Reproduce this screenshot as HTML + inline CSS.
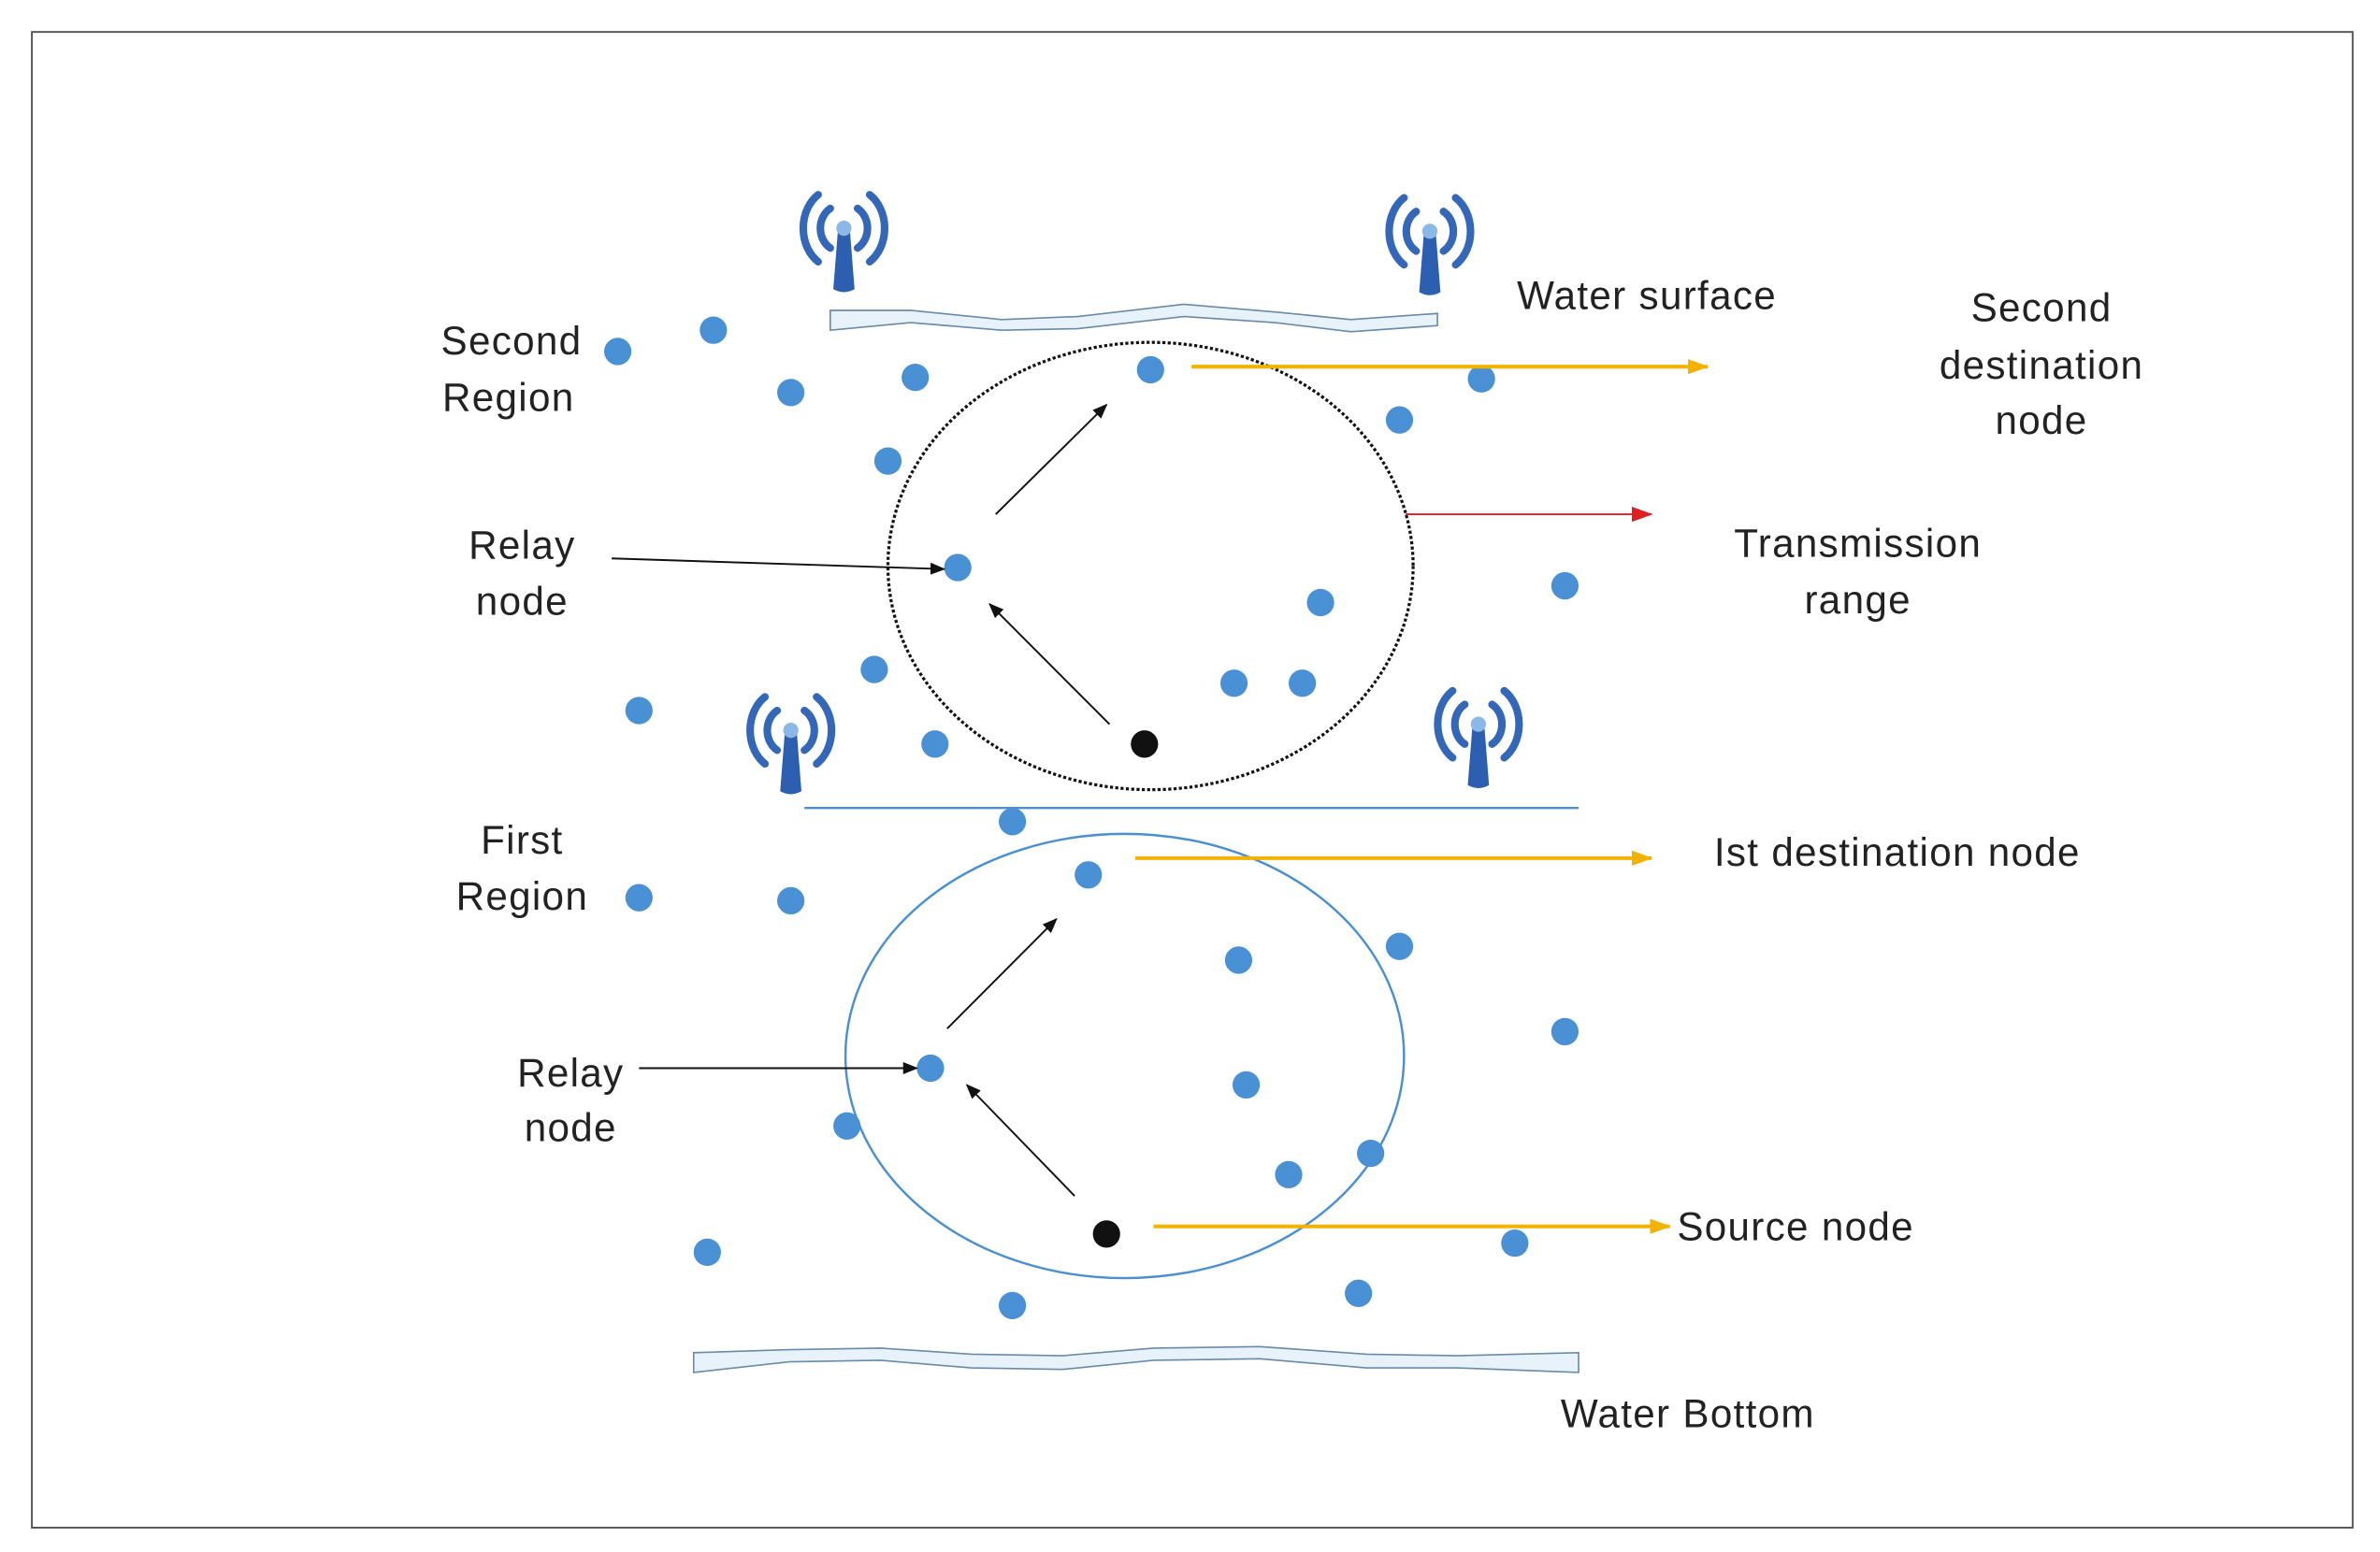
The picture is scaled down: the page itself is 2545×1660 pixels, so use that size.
<!DOCTYPE html>
<html><head><meta charset="utf-8"><style>html,body{margin:0;padding:0;background:#fff}svg{display:block}</style></head>
<body>
<svg width="2545" height="1660" viewBox="0 0 1568 1020" preserveAspectRatio="none" xmlns="http://www.w3.org/2000/svg" font-family="Liberation Sans, sans-serif">
<defs>
<marker id="ab" markerWidth="10" markerHeight="8" refX="9" refY="4" orient="auto" markerUnits="userSpaceOnUse"><path d="M0,0 L10,4 L0,8z" fill="#111"/></marker>
<marker id="ay" markerWidth="14" markerHeight="10" refX="13" refY="5" orient="auto" markerUnits="userSpaceOnUse"><path d="M0,0 L14,5 L0,10z" fill="#f2b200"/></marker>
<marker id="ar" markerWidth="14" markerHeight="10" refX="13" refY="5" orient="auto" markerUnits="userSpaceOnUse"><path d="M0,0 L14,5 L0,10z" fill="#e02020"/></marker>
<g id="ant">
<path d="M-4,0 L4,0 L7,38 Q0,42 -7,38 Z" fill="#2d5fb0"/>
<circle cx="0" cy="-2" r="5" fill="#8cb8e8"/>
<path d="M-9,-15 A13,15 0 0 0 -9,11" stroke="#3567b8" stroke-width="5" fill="none" stroke-linecap="round"/>
<path d="M9,-15 A13,15 0 0 1 9,11" stroke="#3567b8" stroke-width="5" fill="none" stroke-linecap="round"/>
<path d="M-17,-24 A21,26 0 0 0 -17,20" stroke="#3567b8" stroke-width="5" fill="none" stroke-linecap="round"/>
<path d="M17,-24 A21,26 0 0 1 17,20" stroke="#3567b8" stroke-width="5" fill="none" stroke-linecap="round"/>
</g>
</defs>
<rect x="21" y="21" width="1529" height="983" fill="none" stroke="#555" stroke-width="1.2"/>
<use href="#ant" x="556" y="152"/>
<use href="#ant" x="942" y="154"/>
<use href="#ant" x="521" y="482"/>
<use href="#ant" x="974" y="478"/>
<path d="M547,204 L600,204 L660,210 L710,208 L780,200 L840,205 L890,210 L947,206 L947,214 L890,218 L840,212 L780,208 L710,216 L660,217 L600,212 L547,217 Z" fill="#e8f2fb" stroke="#6a8aa8" stroke-width="1"/>
<path d="M457,889 L520,887 L580,886 L640,890 L700,891 L760,886 L830,885 L900,890 L960,891 L1040,889 L1040,902 L960,899 L900,899 L830,893 L760,894 L700,900 L640,899 L580,894 L520,895 L457,902 Z" fill="#e8f2fb" stroke="#6a8aa8" stroke-width="1"/>
<line x1="530" y1="531" x2="1040" y2="531" stroke="#4a8fd0" stroke-width="1.5"/>
<ellipse cx="758" cy="372" rx="173" ry="147" fill="none" stroke="#111" stroke-width="2" stroke-dasharray="2,1.5"/>
<ellipse cx="741" cy="694" rx="184" ry="146" fill="none" stroke="#4a8fd0" stroke-width="1.5"/>
<g fill="#4a90d4">
<circle cx="407" cy="231" r="9"/><circle cx="470" cy="217" r="9"/><circle cx="521" cy="258" r="9"/><circle cx="603" cy="248" r="9"/><circle cx="585" cy="303" r="9"/><circle cx="758" cy="243" r="9"/><circle cx="922" cy="276" r="9"/><circle cx="976" cy="249" r="9"/><circle cx="631" cy="373" r="9"/><circle cx="870" cy="396" r="9"/><circle cx="1031" cy="385" r="9"/><circle cx="576" cy="440" r="9"/><circle cx="813" cy="449" r="9"/><circle cx="858" cy="449" r="9"/><circle cx="421" cy="467" r="9"/><circle cx="616" cy="489" r="9"/><circle cx="667" cy="540" r="9"/><circle cx="717" cy="575" r="9"/><circle cx="421" cy="590" r="9"/><circle cx="521" cy="592" r="9"/><circle cx="816" cy="631" r="9"/><circle cx="922" cy="622" r="9"/><circle cx="1031" cy="678" r="9"/><circle cx="613" cy="702" r="9"/><circle cx="821" cy="713" r="9"/><circle cx="558" cy="740" r="9"/><circle cx="849" cy="772" r="9"/><circle cx="903" cy="758" r="9"/><circle cx="466" cy="823" r="9"/><circle cx="998" cy="817" r="9"/><circle cx="667" cy="858" r="9"/><circle cx="895" cy="850" r="9"/>
</g>
<circle cx="754" cy="489" r="9" fill="#111"/>
<circle cx="729" cy="811" r="9" fill="#111"/>
<g stroke-width="2.5">
<line x1="785" y1="241" x2="1125" y2="241" stroke="#f2b200" marker-end="url(#ay)"/>
<line x1="748" y1="564" x2="1088" y2="564" stroke="#f2b200" marker-end="url(#ay)"/>
<line x1="760" y1="806" x2="1100" y2="806" stroke="#f2b200" marker-end="url(#ay)"/>
</g>
<line x1="926" y1="338" x2="1088" y2="338" stroke="#e02020" stroke-width="1.2" marker-end="url(#ar)"/>
<g stroke="#111" stroke-width="1.2" marker-end="url(#ab)">
<line x1="403" y1="367" x2="622" y2="374"/>
<line x1="656" y1="338" x2="729" y2="266"/>
<line x1="731" y1="476" x2="652" y2="397"/>
<line x1="421" y1="702" x2="604" y2="702"/>
<line x1="624" y1="676" x2="696" y2="604"/>
<line x1="708" y1="786" x2="637" y2="713"/>
</g>
<g font-size="26" fill="#222" text-anchor="middle" letter-spacing="0.8">
<text x="1085" y="203">Water surface</text>
<text x="1345" y="211">Second</text>
<text x="1345" y="249">destination</text>
<text x="1345" y="285">node</text>
<text x="1224" y="366">Transmission</text>
<text x="1224" y="403">range</text>
<text x="337" y="233">Second</text>
<text x="335" y="270">Region</text>
<text x="344" y="367">Relay</text>
<text x="344" y="404">node</text>
<text x="344" y="561">First</text>
<text x="344" y="598">Region</text>
<text x="376" y="714">Relay</text>
<text x="376" y="750">node</text>
<text x="1250" y="569">Ist destination node</text>
<text x="1183" y="815">Source node</text>
<text x="1112" y="938">Water Bottom</text>
</g>
</svg>
</body></html>
